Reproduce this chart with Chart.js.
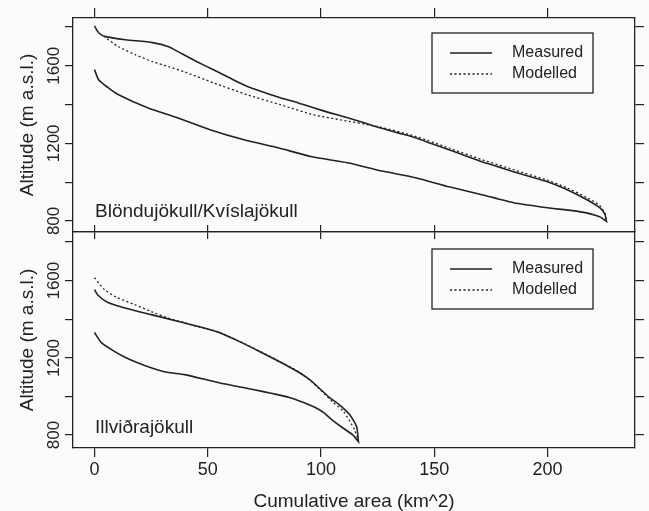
<!DOCTYPE html>
<html>
<head>
<meta charset="utf-8">
<title>Hypsometry</title>
<script src="https://cdn.jsdelivr.net/npm/chart.js@4.4.1/dist/chart.umd.min.js"></script>
<style>
  html, body { margin: 0; padding: 0; background: #fbfbf9; }
  #wrap { position: relative; width: 649px; height: 511px; overflow: hidden; }
  canvas { position: absolute; left: 0; }
  #topPanel { top: 0; }
  #bottomPanel { top: 225px; }
</style>
</head>
<body>
<div id="wrap">
  <canvas id="topPanel" width="649" height="245"></canvas>
  <canvas id="bottomPanel" width="649" height="286"></canvas>
</div>
<script>
// ================================
// Data (cumulative area km^2, altitude m a.s.l.)
// ================================
const AREA_MIN = -9.5;
const AREA_MAX = 238.6;
const areaTicks = [0, 50, 100, 150, 200];
const altTicks = [800, 1000, 1200, 1400, 1600, 1800];
const altTickLabels = [800, 1200, 1600];

// Blöndujökull/Kvíslajökull – measured (upper branch, then lower branch back)
const topUpperArea = [0, 1.8, 4.9, 13.7, 25.6, 32.7, 38, 45, 52.5, 60, 67.5, 75, 82, 90, 96.7, 104, 111.7, 119, 126, 134, 141.7, 149, 156.5, 164, 171, 178, 185, 192.5, 200, 208.7, 217.4, 223, 225.3, 226];
const topUpperAlt = [1805, 1770, 1750, 1734, 1719, 1698, 1665, 1622, 1579, 1535, 1493, 1462, 1435, 1408, 1383, 1357, 1332, 1306, 1280, 1254, 1229, 1198, 1167, 1135, 1105, 1080, 1054, 1028, 1002, 961, 909, 868, 835, 798];
const topLowerArea = [226, 223, 214, 200, 185, 171, 156.5, 141.7, 127, 111.7, 96, 81, 66, 51, 36.6, 23.4, 10.6, 6, 1.8, 0];
const topLowerAlt = [798, 822, 848, 868, 894, 935, 976, 1023, 1057, 1100, 1131, 1177, 1218, 1270, 1332, 1383, 1450, 1487, 1528, 1580];
// Blöndujökull/Kvíslajökull – modelled
const topModelArea = [4, 10.6, 18, 25.6, 32.7, 40, 52.5, 67.5, 82, 96.7, 108.6, 126, 141.7, 156.5, 171, 185, 200, 208.7, 217.4, 223, 225.3, 226];
const topModelAlt = [1752, 1698, 1657, 1621, 1595, 1567, 1512, 1450, 1399, 1347, 1321, 1284, 1236, 1176, 1116, 1064, 1010, 970, 920, 880, 840, 800];

// Illviðrajökull – measured
const botUpperArea = [0, 1.3, 5.7, 13, 25, 36.6, 46, 55, 64, 73, 81.7, 90.5, 95, 99, 103.8, 108, 112.6, 115.7, 116.5];
const botUpperAlt = [1553, 1527, 1488, 1460, 1424, 1390, 1362, 1331, 1284, 1232, 1180, 1123, 1087, 1045, 994, 958, 906, 844, 766];
const botLowerArea = [116.5, 113.9, 109.5, 105, 101, 97, 92, 86, 79, 70, 55, 39.7, 32, 25, 19, 13, 7.5, 3, 0];
const botLowerAlt = [766, 802, 838, 878, 918, 945, 970, 995, 1014, 1036, 1071, 1113, 1125, 1149, 1175, 1206, 1243, 1279, 1331];
// Illviðrajökull – modelled
const botModelArea = [0, 4.4, 10, 17.7, 25, 32, 39.7, 46, 55, 64, 73, 81.7, 90.5, 96, 100, 105, 110, 114.8, 116.5];
const botModelAlt = [1615, 1553, 1512, 1476, 1440, 1408, 1382, 1360, 1333, 1286, 1234, 1182, 1125, 1075, 1030, 973, 921, 828, 770];

// ================================
// Styling helpers
// ================================
const INK = '#222222';
const FONT = "'Liberation Sans', Arial, Helvetica, sans-serif";
Chart.defaults.font.family = FONT;
Chart.defaults.color = INK;

function toPoints(xs, ys) {
    return xs.map((x, i) => ({ x: x, y: ys[i] }));
}

function fixedSize(size) {
    return scale => {
        if (scale.isHorizontal()) scale.height = size;
        else scale.width = size;
    };
}

function tickAxis(position, min, max, values, size, tickLen) {
    return {
        type: 'linear', position: position, min: min, max: max,
        ticks: { display: false },
        afterBuildTicks: scale => { scale.ticks = values.map(v => ({ value: v })); },
        grid: { drawOnChartArea: false, drawTicks: true, tickLength: tickLen, color: INK, lineWidth: 1.2 },
        border: { display: true, color: INK, width: 1.3 },
        afterFit: fixedSize(size)
    };
}

// rotated y tick labels, glacier name, framed legend
const panelDecor = {
    id: 'panelDecor',
    afterDraw(chart, args, opts) {
        const { ctx, chartArea } = chart;
        const yScale = chart.scales.y;
        ctx.save();
        ctx.fillStyle = INK;
        ctx.strokeStyle = INK;

        ctx.font = '17px ' + FONT;
        ctx.textAlign = 'center';
        ctx.textBaseline = 'middle';
        altTickLabels.forEach(v => {
            const py = yScale.getPixelForValue(v);
            ctx.save();
            ctx.translate(54, py);
            ctx.rotate(-Math.PI / 2);
            ctx.fillText(String(v), 0, 0);
            ctx.restore();
        });

        ctx.font = '19px ' + FONT;
        ctx.textAlign = 'left';
        ctx.fillText(opts.name, chartArea.left + 22, chartArea.bottom - 20);

        // legend
        const bx = chartArea.right - 203;
        const by = chartArea.top + opts.legendTop;
        ctx.lineWidth = 1.3;
        ctx.strokeRect(bx, by, 161, 60);
        ctx.font = '16px ' + FONT;
        chart.data.datasets.forEach((ds, i) => {
            const ry = by + 20 + i * 21;
            ctx.save();
            ctx.lineWidth = ds.borderWidth;
            ctx.setLineDash(ds.borderDash || []);
            ctx.beginPath();
            ctx.moveTo(bx + 18, ry);
            ctx.lineTo(bx + 60, ry);
            ctx.stroke();
            ctx.restore();
            ctx.fillText(ds.label, bx + 80, ry);
        });
        ctx.restore();
    }
};

// ================================
// Panels
// ================================
function makePanel(canvasId, p) {
    const xAxis = tickAxis('bottom', AREA_MIN, AREA_MAX, areaTicks, p.bottomSize, p.bottomTick);
    if (p.showX) {
        xAxis.ticks = { display: true, padding: 2, font: { size: 18 }, color: INK,
                        callback: v => String(v) };
        xAxis.title = { display: true, text: 'Cumulative area (km^2)', color: INK,
                        font: { size: 19, lineHeight: 1 }, padding: { top: 0, bottom: 0 } };
    }
    const yAxis = tickAxis('left', p.altMin, p.altMax, altTicks, 73, 8);
    yAxis.title = { display: true, text: 'Altitude (m a.s.l.)', color: INK,
                    font: { size: 19 }, padding: { top: 16, bottom: 0 } };

    return new Chart(document.getElementById(canvasId), {
        type: 'scatter',
        data: {
            datasets: [
                { label: 'Measured', data: toPoints(p.measuredArea, p.measuredAlt), showLine: true,
                  borderColor: INK, borderWidth: 1.6, pointRadius: 0, tension: 0.2 },
                { label: 'Modelled', data: toPoints(p.modelArea, p.modelAlt), showLine: true,
                  borderColor: INK, borderWidth: 1.3, borderDash: [2, 2.5], pointRadius: 0, tension: 0.2 }
            ]
        },
        options: {
            responsive: false,
            animation: false,
            layout: { padding: 0 },
            plugins: {
                legend: { display: false },
                tooltip: { enabled: false },
                panelDecor: { name: p.name, legendTop: p.legendTop }
            },
            scales: {
                x: xAxis,
                xTop: tickAxis('top', AREA_MIN, AREA_MAX, areaTicks, p.topSize, p.topTick),
                y: yAxis,
                yRight: tickAxis('right', p.altMin, p.altMax, altTicks, 14, 9)
            }
        },
        plugins: [panelDecor]
    });
}

makePanel('topPanel', {
    name: 'Blöndujökull/Kvíslajökull',
    measuredArea: topUpperArea.concat(topLowerArea),
    measuredAlt: topUpperAlt.concat(topLowerAlt),
    modelArea: topModelArea, modelAlt: topModelAlt,
    altMin: 743, altMax: 1846,
    topSize: 18, topTick: 10, bottomSize: 13, bottomTick: 7,
    showX: false, legendTop: 15
});

makePanel('bottomPanel', {
    name: 'Illviðrajökull',
    measuredArea: botUpperArea.concat(botLowerArea),
    measuredAlt: botUpperAlt.concat(botLowerAlt),
    modelArea: botModelArea, modelAlt: botModelAlt,
    altMin: 733, altMax: 1852,
    topSize: 7, topTick: 7, bottomSize: 63, bottomTick: 9,
    showX: true, legendTop: 17
});
</script>
</body>
</html>
